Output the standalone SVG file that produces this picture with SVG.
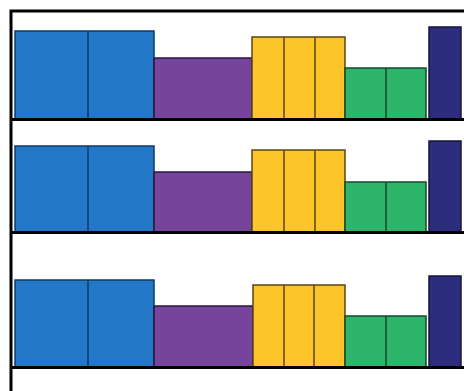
<svg xmlns="http://www.w3.org/2000/svg" width="464" height="391" viewBox="0 0 464 391">
<style>
.b{fill:#2278c6;stroke:#0f3a66;stroke-width:1.5}
.p{fill:#77449b;stroke:#2a1640;stroke-width:1.5}
.y{fill:#fec52a;stroke:#5a4510;stroke-width:1.5}
.g{fill:#2db56b;stroke:#134a2a;stroke-width:1.5}
.n{fill:#2c2d7c;stroke:#15153a;stroke-width:1.5}
.d{stroke-width:1.5;fill:none}
.ax{stroke:#000;stroke-width:3;fill:none}
</style>
<rect width="464" height="391" fill="#fff"/>
<g id="row1">
<g id="r1-blue"><rect class="b" x="15" y="31" width="139" height="88"/><line x1="88" y1="31" x2="88" y2="119" stroke="#0f3a66" class="d"/></g>
<g id="r1-purple"><rect class="p" x="154" y="58" width="98" height="61"/></g>
<g id="r1-yellow"><rect class="y" x="252" y="37" width="93" height="82"/><line x1="284" y1="37" x2="284" y2="119" stroke="#5a4510" class="d"/><line x1="315" y1="37" x2="315" y2="119" stroke="#5a4510" class="d"/></g>
<g id="r1-green"><rect class="g" x="345" y="68" width="81" height="51"/><line x1="386" y1="68" x2="386" y2="119" stroke="#134a2a" class="d"/></g>
<g id="r1-navy"><rect class="n" x="429" y="27" width="32" height="92"/></g>
</g>
<g id="row2">
<g id="r2-blue"><rect class="b" x="15" y="146" width="139" height="86"/><line x1="88" y1="146" x2="88" y2="232" stroke="#0f3a66" class="d"/></g>
<g id="r2-purple"><rect class="p" x="154" y="172" width="98" height="60"/></g>
<g id="r2-yellow"><rect class="y" x="252" y="150" width="93" height="82"/><line x1="284" y1="150" x2="284" y2="232" stroke="#5a4510" class="d"/><line x1="315" y1="150" x2="315" y2="232" stroke="#5a4510" class="d"/></g>
<g id="r2-green"><rect class="g" x="345" y="182" width="81" height="50"/><line x1="386" y1="182" x2="386" y2="232" stroke="#134a2a" class="d"/></g>
<g id="r2-navy"><rect class="n" x="429" y="141" width="32" height="91"/></g>
</g>
<g id="row3">
<g id="r3-blue"><rect class="b" x="15" y="280" width="139" height="87"/><line x1="88" y1="280" x2="88" y2="367" stroke="#0f3a66" class="d"/></g>
<g id="r3-purple"><rect class="p" x="154" y="306" width="99" height="61"/></g>
<g id="r3-yellow"><rect class="y" x="253" y="285" width="92" height="82"/><line x1="284" y1="285" x2="284" y2="367" stroke="#5a4510" class="d"/><line x1="314" y1="285" x2="314" y2="367" stroke="#5a4510" class="d"/></g>
<g id="r3-green"><rect class="g" x="345" y="316" width="81" height="51"/><line x1="386" y1="316" x2="386" y2="367" stroke="#134a2a" class="d"/></g>
<g id="r3-navy"><rect class="n" x="429" y="276" width="32" height="91"/></g>
</g>
<g id="frame">
<path class="ax" d="M11 391V11H464"/>
<line class="ax" x1="11" y1="119.5" x2="464" y2="119.5"/>
<line class="ax" x1="11" y1="232.5" x2="464" y2="232.5"/>
<line class="ax" x1="11" y1="367.5" x2="464" y2="367.5"/>
</g>
</svg>
